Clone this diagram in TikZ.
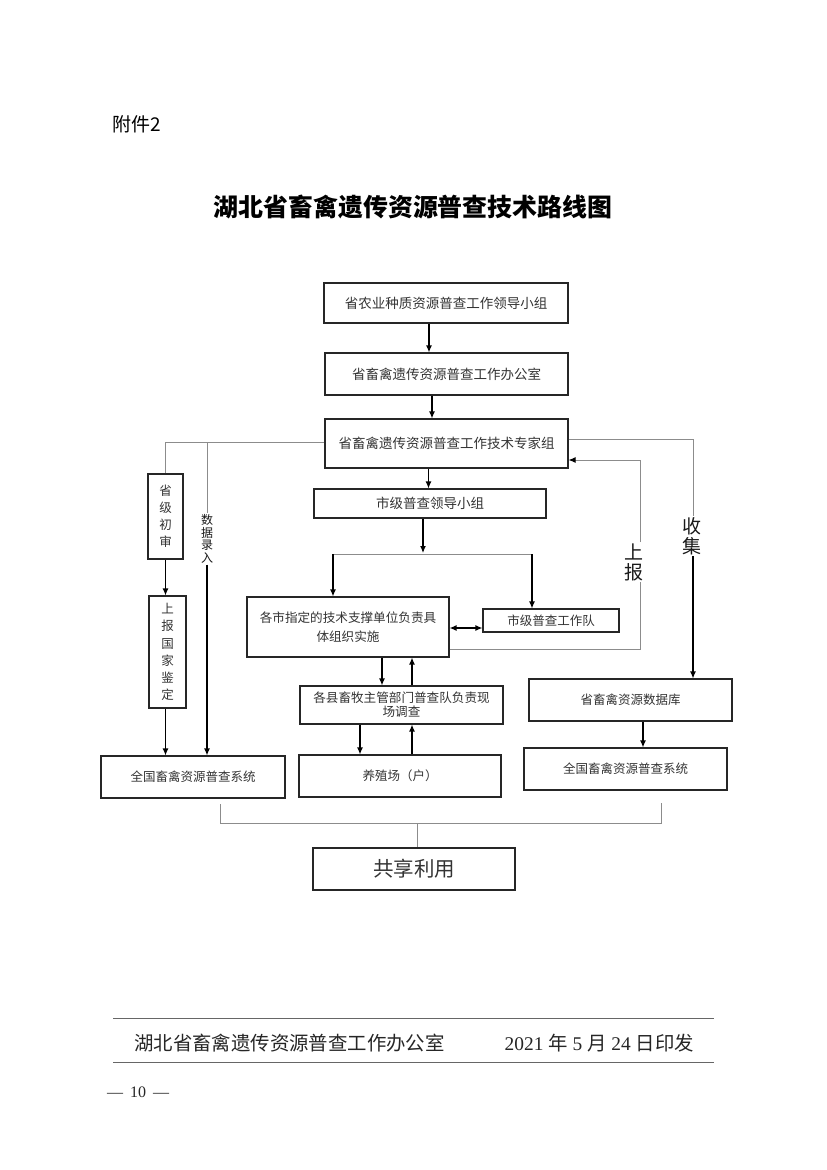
\documentclass[tikz,border=0pt]{standalone}
\usepackage{fontspec}
\setmainfont{Liberation Serif}
\newfontfamily\cjk{Noto Sans CJK SC}
\usetikzlibrary{arrows.meta}
\tikzset{
  box/.style={draw=black!85, line width=1.1pt, fill=white, inner sep=0pt, text=black!80, align=center,
    font=\cjk\fontsize{12.5}{15}\selectfont},
  bigbox/.style={box, font=\cjk\fontsize{13.5}{16}\selectfont},
  arr/.style={-{Latex[length=7pt,width=6pt]}, line width=1.2pt, black},
  darr/.style={{Latex[length=7pt,width=6pt]}-{Latex[length=7pt,width=6pt]}, line width=1.2pt, black},
  gline/.style={line width=1pt, black!45},
  garr/.style={line width=1pt, black!45, -{Latex[length=7pt,width=6pt,color=black]}},
  lab/.style={inner sep=1pt, align=center, text=black!90},
  rule/.style={line width=1pt, black!60},
}
\begin{document}
\begin{tikzpicture}[x=1pt,y=-1pt]
\useasboundingbox[fill=white] (0,0) rectangle (827,1170);

% header
\node[anchor=west, inner sep=0pt, font=\cjk\fontsize{19}{21}\selectfont] (fj) at (112,124) {附件2};
\node[inner sep=0pt, font=\cjk\bfseries\fontsize{24.9}{28}\selectfont] (title) at (413,207) {湖北省畜禽遗传资源普查技术路线图};

% boxes
\node[bigbox, minimum width=244pt, minimum height=40pt] (b1) at (446,303) {省农业种质资源普查工作领导小组};
\node[bigbox, minimum width=243pt, minimum height=42pt] (b2) at (446.5,374) {省畜禽遗传资源普查工作办公室};
\node[bigbox, minimum width=243pt, minimum height=49pt] (b3) at (446.5,443.5) {省畜禽遗传资源普查工作技术专家组};
\node[bigbox, minimum width=232pt, minimum height=29pt] (b4) at (430,503.5) {市级普查领导小组};
\node[box, minimum width=202pt, minimum height=60pt, font=\cjk\fontsize{12.6}{19}\selectfont] (b5) at (348,627) {各市指定的技术支撑单位负责具\\体组织实施};
\node[box, minimum width=136pt, minimum height=23pt] (b6) at (551,620.5) {市级普查工作队};
\node[box, minimum width=203pt, minimum height=38pt, font=\cjk\fontsize{12.6}{14}\selectfont] (b7) at (401.5,705) {各县畜牧主管部门普查队负责现\\场调查};
\node[box, minimum width=202pt, minimum height=42pt] (b8) at (400,776) {养殖场（户）};
\node[box, minimum width=35pt, minimum height=85pt, font=\cjk\fontsize{12.5}{17}\selectfont] (b9) at (165.5,516.5) {省\\级\\初\\审};
\node[box, minimum width=37pt, minimum height=112pt, font=\cjk\fontsize{12.5}{17.2}\selectfont] (b10) at (167.5,652) {上\\报\\国\\家\\鉴\\定};
\node[box, minimum width=184pt, minimum height=42pt] (b11) at (193,777) {全国畜禽资源普查系统};
\node[box, minimum width=203pt, minimum height=42pt] (b12) at (630.5,700) {省畜禽资源数据库};
\node[box, minimum width=203pt, minimum height=42pt] (b13) at (625.5,769) {全国畜禽资源普查系统};
\node[box, minimum width=202pt, minimum height=42pt, font=\cjk\fontsize{20.5}{24}\selectfont] (b14) at (414,869) {共享利用};

% side labels
\node[lab, font=\cjk\fontsize{12}{12.6}\selectfont] (sjlr) at (207,539) {数\\据\\录\\入};
\node[lab, font=\cjk\fontsize{19}{20}\selectfont] (sj) at (692,536) {收\\集};
\node[lab, font=\cjk\fontsize{19}{20}\selectfont] (sb) at (634,562) {上\\报};

\coordinate (sbx) at (640,0);
\coordinate (bA) at (333,554);
\coordinate (bB) at (532,554);
\coordinate (bC) at (423,553);
\coordinate (brL) at (220,804);
\coordinate (brR) at (661,803);
\coordinate (brM) at (417,823);

% main column
\draw[arr] (b1.south -| 429,0) -- (b2.north -| 429,0);
\draw[arr] (b2.south -| 432,0) -- (b3.north -| 432,0);
\draw[arr] (b3.south -| 428.5,0) -- (b4.north -| 428.5,0);
\draw[arr] (b4.south -| bC) -- (bC);
\draw[gline] (bA) -- (bB);
\draw[arr] (bA) -- (bA |- b5.north);
\draw[arr] (bB) -- (bB |- b6.north);
\draw[darr] (b5.east |- 0,628) -- (b6.west |- 0,628);
\draw[arr] (b5.south -| 382,0) -- (b7.north -| 382,0);
\draw[arr] (b7.north -| 412,0) -- (b5.south -| 412,0);
\draw[arr] (b7.south -| 360,0) -- (b8.north -| 360,0);
\draw[arr] (b8.north -| 412,0) -- (b7.south -| 412,0);

% left branch
\draw[gline] (b3.west |- 0,442) -| (b9.north);
\draw[gline] (sjlr.north |- 0,442) -- (sjlr.north);
\draw[arr] (sjlr.south) -- (sjlr.south |- b11.north);
\draw[arr] (b9.south) -- (b9.south |- b10.north);
\draw[arr] (b10.south -| b9.south) -- (b11.north -| b9.south);

% 上报 loop
\draw[gline] (b5.east |- 0,649) -| (sb.south -| sbx);
\draw[garr] (sb.north -| sbx) |- (b3.east |- 0,460);

% 收集
\draw[gline] (b3.east |- 0,439) -| (sj.north -| 693,0);
\draw[arr] (sj.south -| 693,0) -- (b12.north -| 693,0);
\draw[arr] (b12.south -| 643,0) -- (b13.north -| 643,0);

% bottom bracket
\draw[gline] (brL) |- (brM) -| (brR);
\draw[gline] (brM) -- (b14.north -| brM);

% footer
\draw[rule] (113,1018) -- (714,1018);
\draw[rule] (113,1062) -- (714,1062);
\node[anchor=west, inner sep=0pt, font=\cjk\fontsize{19.4}{22}\selectfont, text=black!85] (f1) at (134,1043) {湖北省畜禽遗传资源普查工作办公室};
\node[anchor=east, inner sep=0pt, font=\fontsize{19.4}{22}\selectfont, text=black!85] (f2) at (694,1043) {2021 {\cjk 年} 5 {\cjk 月} 24 {\cjk 日印发}};
\node[anchor=west, inner sep=0pt, font=\fontsize{16}{18}\selectfont, text=black!85] (pg) at (107,1092) {—\hspace{7pt}10\hspace{7pt}—};
\end{tikzpicture}
\end{document}
